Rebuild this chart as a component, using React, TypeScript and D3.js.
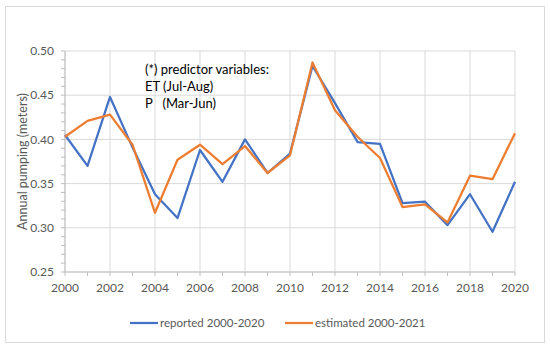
import React from "react";
import * as d3 from "d3";

const years = d3.range(2000, 2021);
const reported = [0.405, 0.370, 0.448, 0.391, 0.338, 0.311, 0.388, 0.352, 0.400, 0.362, 0.384, 0.483, 0.441, 0.397, 0.395, 0.328, 0.3295, 0.303, 0.338, 0.2955, 0.352];
const estimated = [0.403, 0.421, 0.428, 0.394, 0.317, 0.377, 0.394, 0.372, 0.3925, 0.362, 0.382, 0.487, 0.433, 0.403, 0.379, 0.3235, 0.3266, 0.306, 0.359, 0.355, 0.407];
const xTicks = d3.range(2000, 2021, 2);
const yTicks = [0.25, 0.3, 0.35, 0.4, 0.45, 0.5];
const seriesNames = ["reported 2000-2020", "estimated 2000-2021"];
const colors = ["#4472C4", "#ED7D31"];
const noteLines = ["(*) predictor variables:", "ET (Jul-Aug)", "P   (Mar-Jun)"];

export default function App() {
  const W = 550, H = 350;
  const x = d3.scaleLinear().domain([2000, 2020]).range([65, 515]);
  const y = d3.scaleLinear().domain([0.25, 0.5]).range([272, 51]);
  const line = d3.line<number>().x((_, i) => x(years[i])).y((d) => y(d));
  const minorY = d3.range(0.25, 0.5001, 0.01);
  const font = "Lato, 'Open Sans', sans-serif";
  const gray = "#595959";
  return (
    <svg width={W} height={H} style={{ position: "absolute", left: 0, top: 0 }} fontFamily={font}>
      <rect x={0} y={0} width={W} height={H} fill="#fff" />
      <rect x={5.5} y={6.5} width={539} height={336} fill="#fff" stroke="#d9d9d9" />
      {xTicks.map((t) => (
        <line key={"gx" + t} x1={x(t)} x2={x(t)} y1={y(0.5)} y2={y(0.25)} stroke="#d9d9d9" />
      ))}
      {yTicks.map((t) => (
        <line key={"gy" + t} x1={x(2000)} x2={x(2020)} y1={y(t)} y2={y(t)} stroke="#d9d9d9" />
      ))}
      <line x1={x(2000)} x2={x(2020)} y1={y(0.25)} y2={y(0.25)} stroke="#bfbfbf" />
      <line x1={x(2000)} x2={x(2000)} y1={y(0.25)} y2={y(0.5)} stroke="#bfbfbf" />
      {years.map((t) => (
        <line key={"mx" + t} x1={x(t)} x2={x(t)} y1={y(0.25)} y2={y(0.25) + 4} stroke="#bfbfbf" />
      ))}
      {minorY.map((t, i) => (
        <line key={"my" + i} x1={x(2000) - 4} x2={x(2000)} y1={y(t)} y2={y(t)} stroke="#bfbfbf" />
      ))}
      {yTicks.map((t) => (
        <text key={"ty" + t} x={54} y={y(t)} dy="0.35em" textAnchor="end" fontSize={12} fill={gray}>
          {t.toFixed(2)}
        </text>
      ))}
      {xTicks.map((t) => (
        <text key={"tx" + t} x={x(t)} y={288} dy="0.35em" textAnchor="middle" fontSize={12} fill={gray}>
          {t}
        </text>
      ))}
      <text transform={`translate(23,${(y(0.25) + y(0.5)) / 2}) rotate(-90)`} textAnchor="middle" dy="0.35em" fontSize={12.5} fill={gray}>
        Annual pumping (meters)
      </text>
      {[reported, estimated].map((s, k) => (
        <path key={"s" + k} d={line(s) || ""} fill="none" stroke={colors[k]} strokeWidth={2.25} strokeLinejoin="round" />
      ))}
      {noteLines.map((t, i) => (
        <text key={"n" + i} x={145} y={69 + i * 17} dy="0.35em" fontSize={13} fill="#000" style={{ whiteSpace: "pre" }} xmlSpace="preserve">
          {t}
        </text>
      ))}
      {[130, 285].map((lx, k) => (
        <g key={"lg" + k}>
          <line x1={lx} x2={lx + 28} y1={323} y2={323} stroke={colors[k]} strokeWidth={2.25} />
          <text x={lx + 30} y={323} dy="0.35em" fontSize={11.5} fill={gray}>
            {seriesNames[k]}
          </text>
        </g>
      ))}
    </svg>
  );
}
